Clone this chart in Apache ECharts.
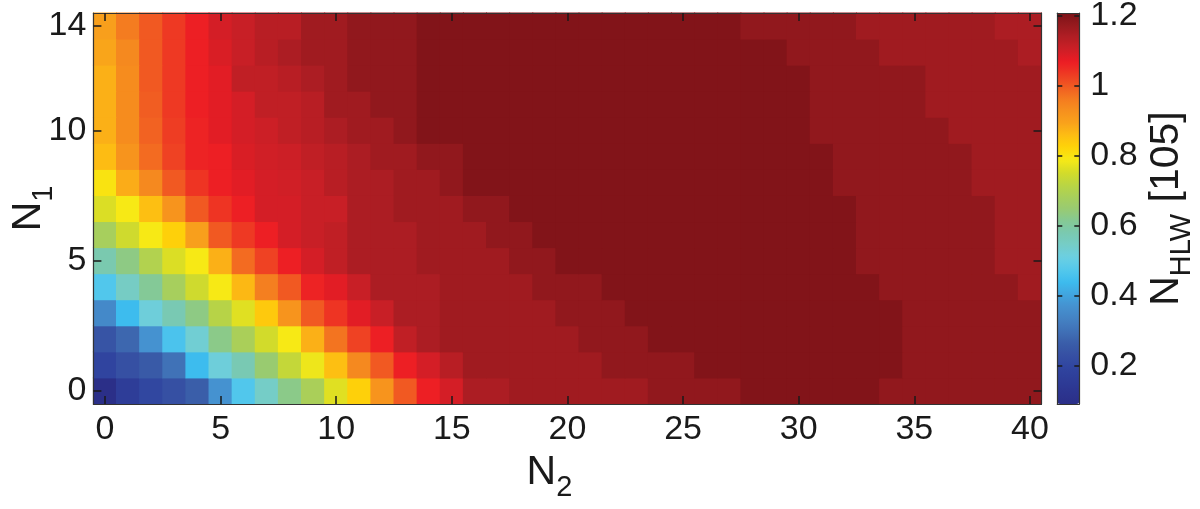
<!DOCTYPE html>
<html><head><meta charset="utf-8">
<script src="https://cdn.jsdelivr.net/npm/echarts@6/dist/echarts.min.js"></script>
<style>html,body{margin:0;padding:0;background:#fff}#c{width:1200px;height:509px}</style>
</head><body><div id="c"></div>
<script>
// categories
const N2 = [0,1,2,3,4,5,6,7,8,9,10,11,12,13,14,15,16,17,18,19,20,21,22,23,24,25,26,27,28,29,30,31,32,33,34,35,36,37,38,39,40];
const N1 = [0,1,2,3,4,5,6,7,8,9,10,11,12,13,14];
// N_HLW [10^5] values, one array per N1 row, indexed by N2
const nhlw_N1_0  = [0.09,0.16,0.20,0.23,0.265,0.37,0.47,0.545,0.625,0.685,0.765,0.83,0.92,1.00,1.065,1.095,1.145,1.145,1.16,1.16,1.16,1.16,1.16,1.16,1.18,1.18,1.18,1.18,1.20,1.20,1.20,1.20,1.20,1.20,1.18,1.18,1.18,1.18,1.18,1.18,1.18];
const nhlw_N1_1  = [0.19,0.23,0.255,0.30,0.44,0.52,0.575,0.65,0.73,0.78,0.855,0.94,1.00,1.065,1.095,1.13,1.16,1.16,1.16,1.16,1.16,1.16,1.18,1.18,1.18,1.18,1.20,1.20,1.20,1.20,1.20,1.20,1.20,1.20,1.20,1.18,1.18,1.18,1.18,1.18,1.18];
const nhlw_N1_2  = [0.24,0.28,0.37,0.46,0.53,0.625,0.685,0.75,0.79,0.875,0.97,1.025,1.065,1.12,1.145,1.16,1.16,1.16,1.16,1.16,1.16,1.18,1.18,1.18,1.20,1.20,1.20,1.20,1.20,1.20,1.20,1.20,1.20,1.20,1.20,1.18,1.18,1.18,1.18,1.18,1.18];
const nhlw_N1_3  = [0.35,0.44,0.52,0.575,0.63,0.71,0.765,0.84,0.92,1.00,1.04,1.08,1.11,1.145,1.145,1.16,1.16,1.16,1.16,1.16,1.18,1.18,1.18,1.20,1.20,1.20,1.20,1.20,1.20,1.20,1.20,1.20,1.20,1.20,1.20,1.18,1.18,1.18,1.18,1.18,1.18];
const nhlw_N1_4  = [0.47,0.55,0.61,0.68,0.745,0.79,0.865,0.955,1.00,1.06,1.08,1.11,1.145,1.145,1.145,1.16,1.16,1.16,1.16,1.18,1.18,1.18,1.20,1.20,1.20,1.20,1.20,1.20,1.20,1.20,1.20,1.20,1.20,1.20,1.18,1.18,1.18,1.18,1.18,1.18,1.16];
const nhlw_N1_5  = [0.58,0.63,0.70,0.76,0.79,0.875,0.98,1.025,1.065,1.095,1.12,1.145,1.145,1.145,1.16,1.16,1.16,1.16,1.18,1.18,1.20,1.20,1.20,1.20,1.20,1.20,1.20,1.20,1.20,1.20,1.20,1.20,1.20,1.18,1.18,1.18,1.18,1.18,1.18,1.16,1.16];
const nhlw_N1_6  = [0.68,0.745,0.79,0.83,0.90,1.00,1.035,1.065,1.095,1.11,1.12,1.145,1.145,1.145,1.16,1.16,1.16,1.18,1.18,1.20,1.20,1.20,1.20,1.20,1.20,1.20,1.20,1.20,1.20,1.20,1.20,1.20,1.20,1.18,1.18,1.18,1.18,1.18,1.18,1.16,1.16];
const nhlw_N1_7  = [0.76,0.79,0.855,0.92,1.00,1.04,1.065,1.095,1.095,1.11,1.11,1.145,1.145,1.16,1.16,1.16,1.18,1.18,1.20,1.20,1.20,1.20,1.20,1.20,1.20,1.20,1.20,1.20,1.20,1.20,1.20,1.20,1.20,1.18,1.18,1.18,1.18,1.18,1.18,1.16,1.16];
const nhlw_N1_8  = [0.80,0.88,0.94,1.00,1.04,1.065,1.08,1.095,1.10,1.11,1.13,1.145,1.145,1.16,1.16,1.18,1.20,1.20,1.20,1.20,1.20,1.20,1.20,1.20,1.20,1.20,1.20,1.20,1.20,1.20,1.20,1.20,1.18,1.18,1.18,1.18,1.18,1.18,1.16,1.16,1.16];
const nhlw_N1_9  = [0.86,0.92,0.98,1.025,1.06,1.065,1.09,1.10,1.105,1.12,1.13,1.145,1.16,1.16,1.18,1.18,1.20,1.20,1.20,1.20,1.20,1.20,1.20,1.20,1.20,1.20,1.20,1.20,1.20,1.20,1.20,1.20,1.18,1.18,1.18,1.18,1.18,1.18,1.16,1.16,1.16];
const nhlw_N1_10 = [0.875,0.935,0.99,1.03,1.06,1.08,1.095,1.105,1.12,1.13,1.145,1.16,1.16,1.18,1.20,1.20,1.20,1.20,1.20,1.20,1.20,1.20,1.20,1.20,1.20,1.20,1.20,1.20,1.20,1.20,1.20,1.18,1.18,1.18,1.18,1.18,1.18,1.16,1.16,1.16,1.16];
const nhlw_N1_11 = [0.875,0.935,0.995,1.035,1.065,1.08,1.095,1.12,1.12,1.13,1.16,1.16,1.18,1.18,1.20,1.20,1.20,1.20,1.20,1.20,1.20,1.20,1.20,1.20,1.20,1.20,1.20,1.20,1.20,1.20,1.20,1.18,1.18,1.18,1.18,1.18,1.16,1.16,1.16,1.16,1.16];
const nhlw_N1_12 = [0.875,0.935,1.00,1.035,1.065,1.08,1.12,1.12,1.13,1.145,1.16,1.18,1.18,1.18,1.20,1.20,1.20,1.20,1.20,1.20,1.20,1.20,1.20,1.20,1.20,1.20,1.20,1.20,1.20,1.20,1.20,1.18,1.18,1.18,1.18,1.18,1.16,1.16,1.16,1.16,1.16];
const nhlw_N1_13 = [0.89,0.94,1.00,1.035,1.065,1.09,1.11,1.13,1.145,1.16,1.16,1.18,1.18,1.18,1.20,1.20,1.20,1.20,1.20,1.20,1.20,1.20,1.20,1.20,1.20,1.20,1.20,1.20,1.20,1.20,1.18,1.18,1.18,1.18,1.16,1.16,1.16,1.16,1.16,1.16,1.145];
const nhlw_N1_14 = [0.90,0.96,1.00,1.035,1.065,1.095,1.11,1.13,1.13,1.16,1.16,1.18,1.18,1.18,1.20,1.20,1.20,1.20,1.20,1.20,1.20,1.20,1.20,1.20,1.20,1.20,1.20,1.20,1.18,1.18,1.18,1.18,1.18,1.16,1.16,1.16,1.16,1.16,1.16,1.145,1.145];
// tick labels
const xTickLabels = ['0','5','10','15','20','25','30','35','40'];
const yTickLabels = ['0','5','10','14'];
const cbTicks = [0.2,0.4,0.6,0.8,1,1.2];
const cbRange = [0.09, 1.208];

const rows = [nhlw_N1_0,nhlw_N1_1,nhlw_N1_2,nhlw_N1_3,nhlw_N1_4,nhlw_N1_5,nhlw_N1_6,nhlw_N1_7,nhlw_N1_8,nhlw_N1_9,nhlw_N1_10,nhlw_N1_11,nhlw_N1_12,nhlw_N1_13,nhlw_N1_14];
const data = [];
rows.forEach((r, yi) => r.forEach((v, xi) => data.push([xi, yi, v])));

// printed jet colormap, 33 evenly spaced stops
const jet = ['#2b2f88','#2c3590','#2e3d98','#3045a0','#3650a3','#3a5ea9','#4072b7','#4482c3','#4592d0',
  '#41a6e0','#3dbcee','#54c8ec','#6bcfe2','#75cdc8','#7ac9b0','#85c994','#99cb71','#a9cf5a','#bcd541',
  '#d5dc28','#f7ea16','#fed408','#fdbd13','#f9a21b','#f6901e','#f47a20','#f15a22','#ee3a23','#ed1c24',
  '#cd1f26','#b21e24','#961a1e','#7c1218'];
const FONT = '"Liberation Sans", Arial, Helvetica, sans-serif';
const INK = '#1a1a1a';
const tickStyle = {color: INK, width: 1.5};
const lineStyle = {color: '#333', width: 1.2};
const nameRich = {
  n: {fontSize: 41, lineHeight: 42, verticalAlign: 'top', fontFamily: FONT, color: INK},
  s: {fontSize: 29, lineHeight: 29, padding: [21,0,0,0], verticalAlign: 'top', fontFamily: FONT, color: INK}
};
const showX = (i, v) => xTickLabels.includes(String(v));
const showY = (i, v) => yTickLabels.includes(String(v));

const chart = echarts.init(document.getElementById('c'), null, {renderer: 'canvas'});
chart.setOption({
  animation: false,
  backgroundColor: '#fff',
  grid: [
    {left: 93.4, top: 13, width: 948.1, height: 391, outerBoundsMode: 'none', containLabel: false},
    {left: 1057.3, top: 13, width: 22, height: 391, outerBoundsMode: 'none', containLabel: false}
  ],
  xAxis: [
    {type: 'category', data: N2, gridIndex: 0, position: 'bottom', z: 10,
     axisLine: {show: true, onZero: false, lineStyle},
     axisTick: {show: true, inside: true, length: 8, alignWithLabel: true, interval: showX, lineStyle: tickStyle},
     axisLabel: {interval: showX, margin: 9, fontSize: 34, color: INK, fontFamily: FONT},
     splitLine: {show: false},
     name: '{n|N}{s|2}', nameLocation: 'middle', nameGap: 48, nameMoveOverlap: false,
     nameTextStyle: {rich: nameRich, padding: [0, 36, 0, 0]}},
    {type: 'category', data: N2, gridIndex: 0, position: 'top', z: 10,
     axisLine: {show: true, onZero: false, lineStyle},
     axisTick: {show: true, inside: true, length: 8, alignWithLabel: true, interval: showX, lineStyle: tickStyle},
     axisLabel: {show: false}, splitLine: {show: false}},
    {type: 'value', gridIndex: 1, min: 0, max: 1, position: 'bottom', z: 10,
     axisLine: {show: true, onZero: false, lineStyle}, axisTick: {show: false}, axisLabel: {show: false}, splitLine: {show: false}},
    {type: 'value', gridIndex: 1, min: 0, max: 1, position: 'top', z: 10,
     axisLine: {show: true, onZero: false, lineStyle}, axisTick: {show: false}, axisLabel: {show: false}, splitLine: {show: false}}
  ],
  yAxis: [
    {type: 'category', data: N1, gridIndex: 0, position: 'left', z: 10,
     axisLine: {show: true, onZero: false, lineStyle},
     axisTick: {show: true, inside: true, length: 8, alignWithLabel: true, interval: showY, lineStyle: tickStyle},
     axisLabel: {interval: showY, margin: 7, fontSize: 34, color: INK, fontFamily: FONT},
     splitLine: {show: false},
     name: '{n|N}{s|1}', nameLocation: 'middle', nameGap: 43, nameRotate: 90, nameMoveOverlap: false,
     nameTextStyle: {rich: nameRich}},
    {type: 'category', data: N1, gridIndex: 0, position: 'right', z: 10,
     axisLine: {show: true, onZero: false, lineStyle},
     axisTick: {show: true, inside: true, length: 8, alignWithLabel: true, interval: showY, lineStyle: tickStyle},
     axisLabel: {show: false}, splitLine: {show: false}},
    {type: 'value', gridIndex: 1, min: cbRange[0], max: cbRange[1], position: 'left', z: 10,
     axisLine: {show: true, onZero: false, lineStyle},
     axisTick: {show: true, inside: true, length: 5, customValues: cbTicks, lineStyle: tickStyle},
     axisLabel: {show: false}, splitLine: {show: false}},
    {type: 'value', gridIndex: 1, min: cbRange[0], max: cbRange[1], position: 'right', z: 10,
     axisLine: {show: true, onZero: false, lineStyle},
     axisTick: {show: true, inside: true, length: 5, customValues: cbTicks, lineStyle: tickStyle},
     axisLabel: {show: true, customValues: cbTicks, margin: 11, fontSize: 34, color: INK, fontFamily: FONT,
                 formatter: v => String(Math.round(v * 10) / 10)},
     splitLine: {show: false},
     name: '{n|N}{s|HLW}{n| [105]}', nameLocation: 'middle', nameGap: 67, nameRotate: 90, nameMoveOverlap: false,
     nameTextStyle: {rich: nameRich}}
  ],
  visualMap: {
    type: 'continuous', min: cbRange[0], max: cbRange[1], dimension: 2, seriesIndex: 0,
    calculable: false, hoverLink: false, realtime: false,
    left: 1057.3, top: 13, itemWidth: 22, itemHeight: 391, padding: 0, text: null,
    inRange: {color: jet}
  },
  series: [{
    type: 'custom', xAxisIndex: 0, yAxisIndex: 0, data: data,
    encode: {x: 0, y: 1},
    renderItem: function (params, api) {
      const p = api.coord([api.value(0), api.value(1)]);
      const s = api.size([1, 1]);
      return {type: 'rect',
        shape: {x: p[0] - s[0] / 2 - 0.5, y: p[1] - s[1] / 2 - 0.5, width: s[0] + 1, height: s[1] + 1},
        style: {fill: api.visual('color')}};
    }
  }]
});
</script></body></html>
